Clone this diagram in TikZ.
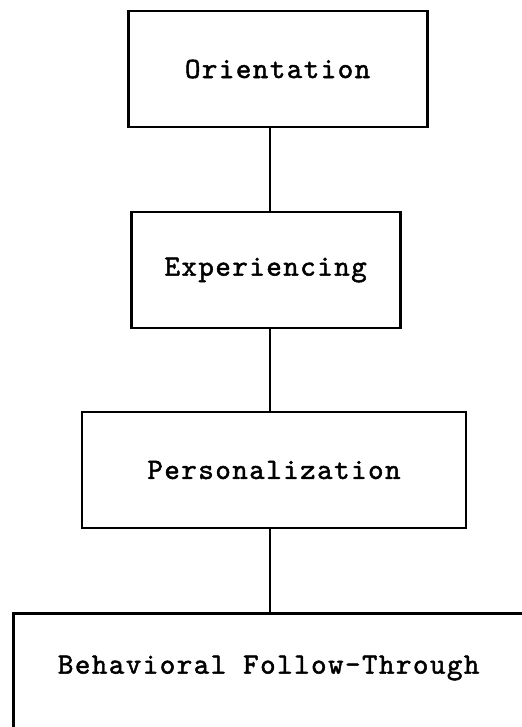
\documentclass[tikz,border=0pt]{standalone}
\usepackage{fontspec}
\newfontfamily\typefont{lmmono10-regular.otf}[FakeBold=1.6,LetterSpace=5]
\usepackage{tikz}
\usetikzlibrary{positioning}

\newcommand{\typed}{\typefont\fontsize{21}{24}\selectfont}

\begin{document}
\begin{tikzpicture}[
  stage/.style={draw,line width=2pt,minimum height=2.9cm,inner sep=0pt,font=\typed},
  link/.style={line width=2pt}
]
  \clip (0,0) rectangle (13.05,18.175);

  \node[stage,minimum width=7.475cm] (ori)  at (6.94,16.45)  {Orientation};
  \node[stage,minimum width=6.725cm] (exp)  at (6.64,11.425) {Experiencing};
  \node[stage,minimum width=9.6cm]   (pers) at (6.85,6.425)  {Personalization};

  % last stage runs off the page
  \node[stage,anchor=north west,minimum width=14cm,minimum height=4cm] (beh) at (0.3,2.875) {};
  \node[anchor=west,font=\typed] (behtxt) at (1.325,1.475) {Behavioral Follow-Through};

  \coordinate (spine) at (6.75,0);
  \draw[link] (ori.south -| spine)  -- (exp.north -| spine);
  \draw[link] (exp.south -| spine)  -- (pers.north -| spine);
  \draw[link] (pers.south -| spine) -- (beh.north -| spine);
\end{tikzpicture}
\end{document}
